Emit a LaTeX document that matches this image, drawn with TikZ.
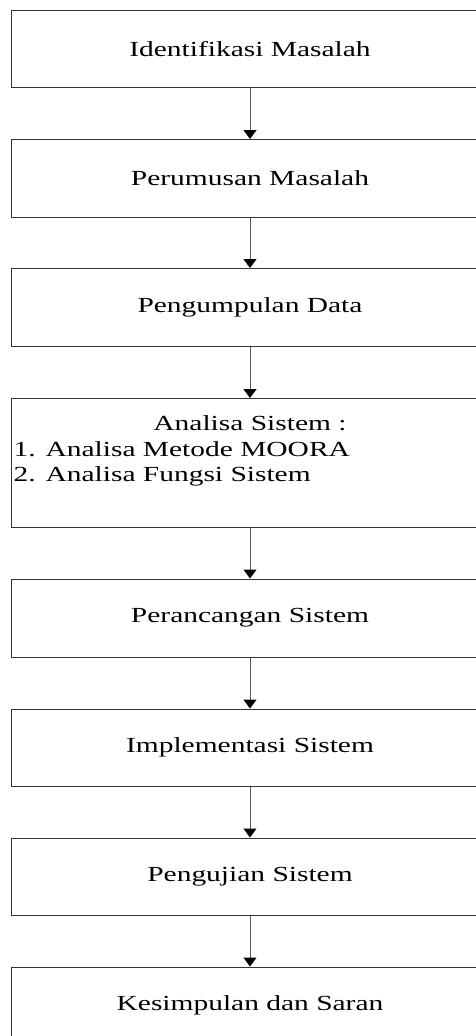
\documentclass[tikz,border=0pt]{standalone}
\usepackage{fontspec}
\setmainfont{Liberation Serif}
\usetikzlibrary{arrows.meta}
\newcommand{\widetext}[1]{\scalebox{1.37}[1]{#1}}
\tikzset{
  stepbox/.style={draw=black!80, line width=1pt, rectangle, minimum width=477pt, inner sep=0pt, font=\fontsize{21.5}{26}\selectfont},
  flow/.style={draw=black!65, line width=1pt, -{Triangle[length=9pt,width=13pt,color=black]}},
  txt/.style={inner sep=0pt, font=\fontsize{21.5}{26}\selectfont}
}
\begin{document}
\begin{tikzpicture}[x=1pt,y=-1pt]
\useasboundingbox (0,0) rectangle (476,1036);
\clip (0,0) rectangle (476,1036);
\node[stepbox, minimum height=77.5pt] (b1) at (250,48.75) {\widetext{Identifikasi Masalah}};
\node[stepbox, minimum height=77.5pt] (b2) at (250,178.25) {\widetext{Perumusan Masalah}};
\node[stepbox, minimum height=77.5pt] (b3) at (250,307.25) {\widetext{Pengumpulan Data}};
\node[stepbox, minimum height=128.5pt] (b4) at (250,462.75) {};
\node[txt, anchor=base] (t4a) at (250,430.5) {\widetext{Analisa Sistem :}};
\node[txt, anchor=base west] (t4b) at (13.5,456.5) {\widetext{1. Analisa Metode MOORA}};
\node[txt, anchor=base west] (t4c) at (13.5,481) {\widetext{2. Analisa Fungsi Sistem}};
\node[stepbox, minimum height=78pt] (b5) at (250,618) {\widetext{Perancangan Sistem}};
\node[stepbox, minimum height=77pt] (b6) at (250,747.5) {\widetext{Implementasi Sistem}};
\node[stepbox, minimum height=77pt] (b7) at (250,876.5) {\widetext{Pengujian Sistem}};
\node[stepbox, minimum height=77.5pt] (b8) at (250,1005.75) {\widetext{Kesimpulan dan Saran}};
\draw[flow] (b1.south) -- (b2.north);
\draw[flow] (b2.south) -- (b3.north);
\draw[flow] (b3.south) -- (b4.north);
\draw[flow] (b4.south) -- (b5.north);
\draw[flow] (b5.south) -- (b6.north);
\draw[flow] (b6.south) -- (b7.north);
\draw[flow] (b7.south) -- (b8.north);
\end{tikzpicture}
\end{document}
